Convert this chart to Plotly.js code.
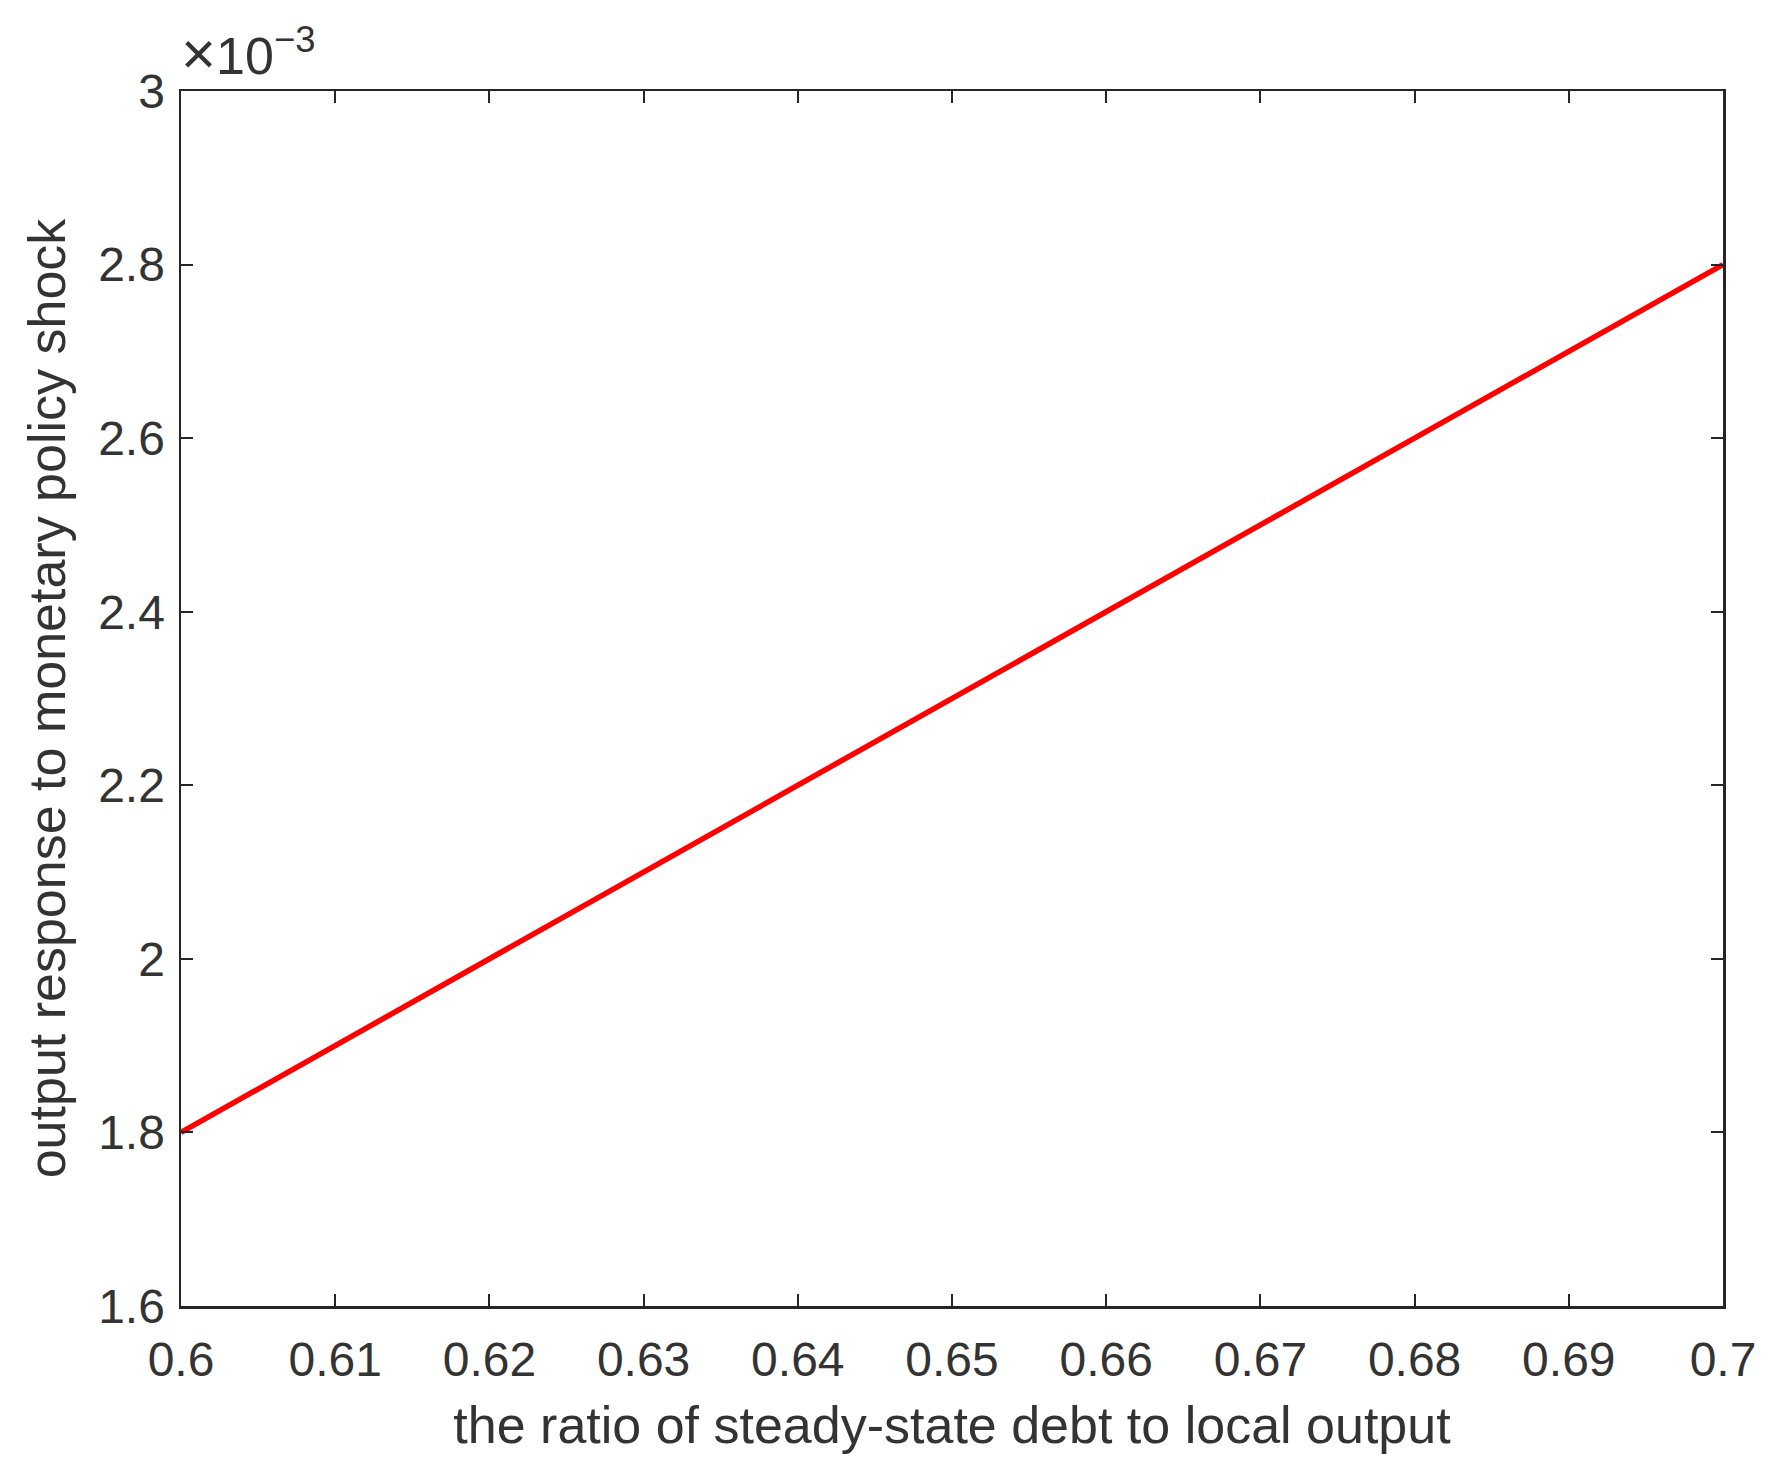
<!DOCTYPE html>
<html>
<head>
<meta charset="utf-8">
<script src="https://cdn.plot.ly/plotly-3.0.1.min.js"></script>
<style>html,body{margin:0;padding:0;background:#fff;}#chart{width:1783px;height:1481px;}</style>
</head>
<body>
<div id="chart"></div>
<script>
// Data
const debtRatio = [0.60, 0.61, 0.62, 0.63, 0.64, 0.65, 0.66, 0.67, 0.68, 0.69, 0.70];
const outputResponse = [0.0018, 0.0019, 0.0020, 0.0021, 0.0022, 0.0023, 0.0024, 0.0025, 0.0026, 0.0027, 0.0028];
const xTickVals = [0.6, 0.61, 0.62, 0.63, 0.64, 0.65, 0.66, 0.67, 0.68, 0.69, 0.7];
const xTickText = ['0.6', '0.61', '0.62', '0.63', '0.64', '0.65', '0.66', '0.67', '0.68', '0.69', '0.7'];
const yTickVals = [0.0016, 0.0018, 0.0020, 0.0022, 0.0024, 0.0026, 0.0028, 0.0030];
const yTickText = ['1.6', '1.8', '2', '2.2', '2.4', '2.6', '2.8', '3'];

const fontFam = 'Liberation Sans, Arial, Helvetica, sans-serif';
const axColor = '#262626';
const textColor = '#333333';

const trace = {
  x: debtRatio,
  y: outputResponse,
  type: 'scatter',
  mode: 'lines',
  line: {color: '#ff0000', width: 5.5},
  hoverinfo: 'skip'
};

const axisCommon = {
  showgrid: false,
  zeroline: false,
  showline: true,
  linecolor: axColor,
  linewidth: 2.5,
  mirror: 'ticks',
  ticks: 'inside',
  ticklen: 12,
  tickwidth: 2,
  tickcolor: axColor,
  tickfont: {family: fontFam, size: 48, color: textColor}
};

const layout = {
  width: 1783,
  height: 1481,
  margin: {l: 181, r: 60, t: 91, b: 175},
  paper_bgcolor: '#ffffff',
  plot_bgcolor: '#ffffff',
  showlegend: false,
  xaxis: Object.assign({}, axisCommon, {
    range: [0.6, 0.7],
    tickmode: 'array',
    tickvals: xTickVals,
    ticktext: xTickText,
    ticklabelstandoff: 10,
    title: {text: 'the ratio of steady-state debt to local output', font: {family: fontFam, size: 52, color: textColor}, standoff: 22}
  }),
  yaxis: Object.assign({}, axisCommon, {
    range: [0.0016, 0.0030],
    tickmode: 'array',
    tickvals: yTickVals,
    ticktext: yTickText,
    ticklabelstandoff: 4,
    title: {text: 'output response to monetary policy shock', font: {family: fontFam, size: 52, color: textColor}, standoff: 16}
  }),
  annotations: [{
    xref: 'paper', yref: 'paper', x: 0, y: 1,
    xanchor: 'left', yanchor: 'bottom',
    yshift: 2, xshift: -2,
    showarrow: false,
    text: '<span style="font-size:60px">×</span>10<sup>−3</sup>',
    font: {family: fontFam, size: 52, color: textColor}
  }]
};

Plotly.newPlot('chart', [trace], layout, {displayModeBar: false, staticPlot: true});
</script>
</body>
</html>
